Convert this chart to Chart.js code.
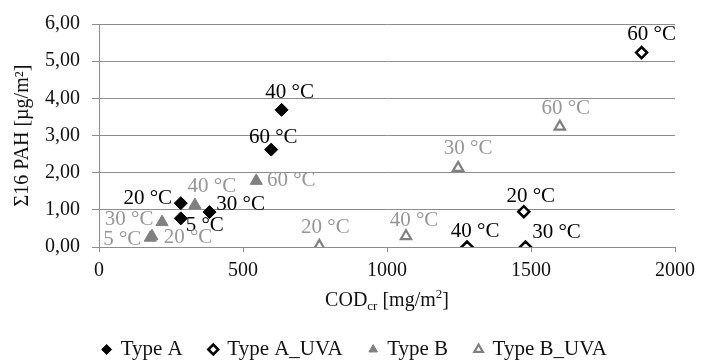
<!DOCTYPE html>
<html>
<head>
<meta charset="utf-8">
<script src="https://cdn.jsdelivr.net/npm/chart.js@4"></script>
<style>
  html, body { margin: 0; padding: 0; background: #fff; }
  #wrap { width: 702px; height: 360px; }
</style>
</head>
<body>
<div id="wrap"><canvas id="pahChart" width="702" height="360"></canvas></div>
<script>
// Datos: COD_cr [mg/m2] vs Σ16 PAH [µg/m2]
const typeA_cod = [634, 598, 284, 284, 384];
const typeA_pah = [3.69, 2.62, 1.18, 0.77, 0.94];
const typeA_temp = ['40 °C', '60 °C', '20 °C', '5 °C', '30 °C'];

const typeAUVA_cod = [1884, 1475, 1278, 1481];
const typeAUVA_pah = [5.23, 0.95, 0.00, 0.00];
const typeAUVA_temp = ['60 °C', '20 °C', '40 °C', '30 °C'];

const typeB_cod = [546, 333, 219, 178, 184];
const typeB_pah = [1.78, 1.13, 0.67, 0.25, 0.29];
const typeB_temp = ['60 °C', '40 °C', '30 °C', '5 °C', '20 °C'];

const typeBUVA_cod = [1600, 1247, 1066, 765];
const typeBUVA_pah = [3.24, 2.13, 0.29, 0.03];
const typeBUVA_temp = ['60 °C', '30 °C', '40 °C', '20 °C'];

const seriesNames = ['Type A', 'Type A_UVA', 'Type B', 'Type B_UVA'];
const xTickLabels = ['0', '500', '1000', '1500', '2000'];
const yTickLabels = ['0,00', '1,00', '2,00', '3,00', '4,00', '5,00', '6,00'];

const SERIF = '"Liberation Serif", "Times New Roman", serif';
const GRID = '#8c8c8c';
const GREY = '#808080';

const toPoints = (xs, ys) => xs.map((x, i) => ({ x: x, y: ys[i] }));

// etiquetas de temperatura junto a cada punto
const tempLabels = {
    id: 'tempLabels',
    afterDatasetsDraw(chart) {
        const ctx = chart.ctx;
        ctx.save();
        ctx.font = '21px ' + SERIF;
        ctx.textAlign = 'center';
        ctx.textBaseline = 'middle';
        chart.data.datasets.forEach((ds, di) => {
            const meta = chart.getDatasetMeta(di);
            meta.data.forEach((pt, i) => {
                const shift = ds.labelShift[i];
                ctx.fillStyle = ds.labelColor;
                ctx.fillText(ds.temps[i], pt.x + shift[0], pt.y + shift[1]);
            });
        });
        ctx.restore();
    }
};

// titulo del eje X con subindice (COD_cr) y superindice (m2)
const codTitle = {
    id: 'codTitle',
    afterDraw(chart) {
        const ctx = chart.ctx;
        const area = chart.chartArea;
        const big = '20px ' + SERIF, small = '13px ' + SERIF;
        const parts = [
            { t: 'COD', f: big, dy: 0 },
            { t: 'cr', f: small, dy: 4 },
            { t: ' [mg/m', f: big, dy: 0 },
            { t: '2', f: small, dy: -8 },
            { t: ']', f: big, dy: 0 }
        ];
        ctx.save();
        ctx.fillStyle = '#111';
        ctx.textBaseline = 'alphabetic';
        ctx.textAlign = 'left';
        let total = 0;
        parts.forEach(p => { ctx.font = p.f; p.w = ctx.measureText(p.t).width; total += p.w; });
        let x = (area.left + area.right) / 2 - total / 2;
        const base = 306;
        parts.forEach(p => { ctx.font = p.f; ctx.fillText(p.t, x, base + p.dy); x += p.w; });
        ctx.restore();
    }
};

document.addEventListener('DOMContentLoaded', function() {
    const ctx = document.getElementById('pahChart');
    new Chart(ctx, {
        type: 'scatter',
        data: {
            datasets: [{
                label: seriesNames[0], data: toPoints(typeA_cod, typeA_pah), temps: typeA_temp,
                pointStyle: 'rectRot', pointRadius: 6.5, borderWidth: 1,
                backgroundColor: '#000', borderColor: '#000', labelColor: '#000',
                labelShift: [[8, -17], [2, -12], [-33, -5], [24, 7], [31, -8]]
            }, {
                label: seriesNames[1], data: toPoints(typeAUVA_cod, typeAUVA_pah), temps: typeAUVA_temp,
                pointStyle: 'rectRot', pointRadius: 5.5, borderWidth: 2.5,
                backgroundColor: '#fff', borderColor: '#000', labelColor: '#000',
                labelShift: [[10, -18], [7, -15], [8, -16], [31, -15]]
            }, {
                label: seriesNames[2], data: toPoints(typeB_cod, typeB_pah), temps: typeB_temp,
                pointStyle: 'triangle', pointRadius: 7, borderWidth: 1,
                backgroundColor: GREY, borderColor: GREY, labelColor: '#969696',
                labelShift: [[35, 0], [17, -19], [-33, -3], [-28, 2], [36, 1]]
            }, {
                label: seriesNames[3], data: toPoints(typeBUVA_cod, typeBUVA_pah), temps: typeBUVA_temp,
                pointStyle: 'triangle', pointRadius: 6, borderWidth: 2.2,
                backgroundColor: '#fff', borderColor: GREY, labelColor: '#969696',
                labelShift: [[6, -18], [10, -19], [8, -16], [6, -18]]
            }]
        },
        options: {
            responsive: false,
            animation: false,
            layout: { padding: { top: 16, right: 24, left: 32, bottom: -10 } },
            plugins: {
                tooltip: { enabled: false },
                legend: {
                    position: 'bottom',
                    labels: {
                        usePointStyle: true, boxWidth: 7, boxHeight: 7, padding: 27,
                        color: '#111', font: { family: SERIF, size: 21 }
                    }
                }
            },
            scales: {
                x: {
                    type: 'linear', min: 0, max: 2000,
                    afterFit: s => { s.height = 65; },
                    ticks: {
                        stepSize: 500, padding: 7, color: '#111',
                        font: { family: SERIF, size: 20 },
                        callback: (v, i) => xTickLabels[i]
                    },
                    grid: { drawOnChartArea: false, drawTicks: true, tickLength: 5, color: GRID },
                    border: { color: GRID, width: 1 }
                },
                y: {
                    min: 0, max: 6,
                    afterFit: s => { s.width = 67; },
                    ticks: {
                        stepSize: 1, padding: 12, color: '#111',
                        font: { family: SERIF, size: 20 },
                        callback: (v, i) => yTickLabels[i]
                    },
                    grid: { color: GRID, tickLength: 7, lineWidth: 1 },
                    border: { color: GRID, width: 1 },
                    title: {
                        display: true, text: 'Σ16 PAH [µg/m²]', color: '#111',
                        font: { family: SERIF, size: 20 }, padding: { top: -21, bottom: 0 }
                    }
                }
            }
        },
        plugins: [tempLabels, codTitle]
    });
});
</script>
</body>
</html>
